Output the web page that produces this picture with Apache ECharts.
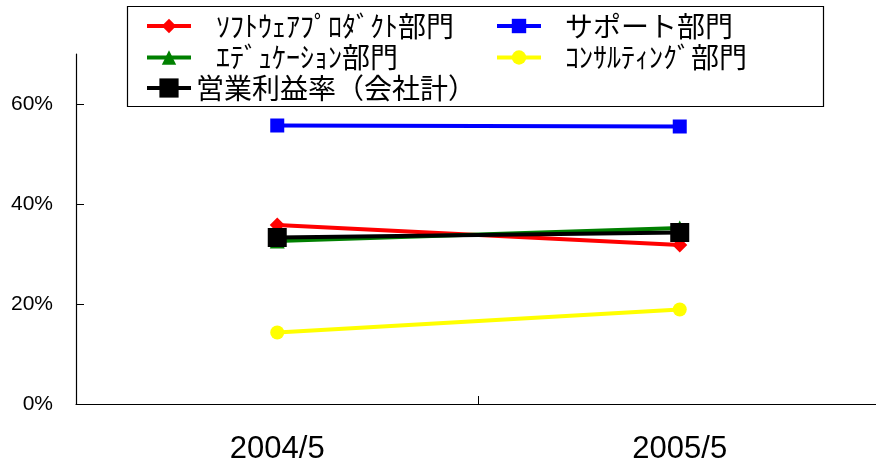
<!DOCTYPE html>
<html>
<head>
<meta charset="utf-8">
<script src="https://cdn.jsdelivr.net/npm/echarts@6/dist/echarts.min.js"></script>
<style>
html,body{margin:0;padding:0;background:#fff;}
#chart{width:876px;height:470px;}
</style>
</head>
<body>
<div id="chart"></div>
<script>
// ---- data ----
const categories = ['2004/5', '2005/5'];
const seriesNames = ['ｿﾌﾄｳｪｱﾌﾟﾛﾀﾞｸﾄ部門', 'サポート部門', 'ｴﾃﾞｭｹｰｼｮﾝ部門', 'ｺﾝｻﾙﾃｨﾝｸﾞ部門', '営業利益率（会社計）'];
const softwareValues = [35.8, 31.8];
const supportValues = [55.7, 55.5];
const educationValues = [32.6, 35.2];
const consultingValues = [14.3, 18.9];
const totalValues = [33.3, 34.3];
const yTickValues = [0, 20, 40, 60];

const colors = ['#FF0000', '#0000FF', '#008000', '#FFFF00', '#000000'];
const symbols = ['diamond', 'rect', 'triangle', 'circle', 'rect'];
const symbolSizes = [15, 14, 15, 14, 19];
const valueSets = [softwareValues, supportValues, educationValues, consultingValues, totalValues];

const series = valueSets.map((vals, i) => ({
  name: seriesNames[i],
  type: 'line',
  data: vals,
  symbol: symbols[i],
  symbolSize: symbolSizes[i],
  showAllSymbol: true,
  lineStyle: { color: colors[i], width: 4 },
  itemStyle: { color: colors[i] },
  z: 2 + i
}));

const legendFont = '"Noto Sans CJK JP", sans-serif';
function legendAt(i, left, centerY, padLeft, itemH) {
  return {
    show: true,
    data: [seriesNames[i]],
    left: left,
    top: centerY - 14,
    padding: 0,
    itemWidth: 44,
    itemHeight: itemH,
    selectedMode: false,
    z: 10,
    lineStyle: { width: 4 },
    textStyle: {
      fontFamily: legendFont,
      fontSize: 28,
      lineHeight: 28,
      color: '#000',
      padding: [0, 0, 0, padLeft]
    }
  };
}

const chart = echarts.init(document.getElementById('chart'), null, { renderer: 'canvas' });
chart.setOption({
  animation: false,
  backgroundColor: '#fff',
  graphic: [{
    type: 'rect',
    shape: { x: 127.5, y: 6.5, width: 696, height: 100 },
    style: { fill: '#fff', stroke: '#000', lineWidth: 1.2 },
    z: 1,
    silent: true
  }],
  legend: [
    legendAt(0, 145, 26, 20, 18),
    legendAt(2, 145, 57.5, 20, 18),
    legendAt(4, 145, 88, 0, 24),
    legendAt(1, 495, 26, 19, 18),
    legendAt(3, 495, 57.5, 19, 18)
  ],
  grid: { left: 76, width: 805, top: 54, bottom: 66, containLabel: false, outerBoundsMode: 'none' },
  xAxis: {
    type: 'category',
    data: categories,
    boundaryGap: true,
    axisLine: { show: true, lineStyle: { color: '#000', width: 1.2 } },
    axisTick: { show: true, inside: true, length: 8, lineStyle: { color: '#000' } },
    axisLabel: {
      margin: 30,
      fontFamily: '"Liberation Sans", Arial, sans-serif',
      fontSize: 31,
      color: '#000'
    },
    splitLine: { show: false }
  },
  yAxis: {
    type: 'value',
    min: 0,
    max: 70,
    interval: 20,
    axisLine: { show: true, lineStyle: { color: '#000', width: 1.2 } },
    axisTick: { show: true, inside: true, length: 8, customValues: yTickValues, lineStyle: { color: '#000' } },
    axisLabel: {
      margin: 23,
      customValues: yTickValues,
      formatter: v => v + '%',
      fontFamily: '"Liberation Sans", Arial, sans-serif',
      fontSize: 21,
      color: '#000'
    },
    splitLine: { show: false }
  },
  series: series
});
</script>
</body>
</html>
